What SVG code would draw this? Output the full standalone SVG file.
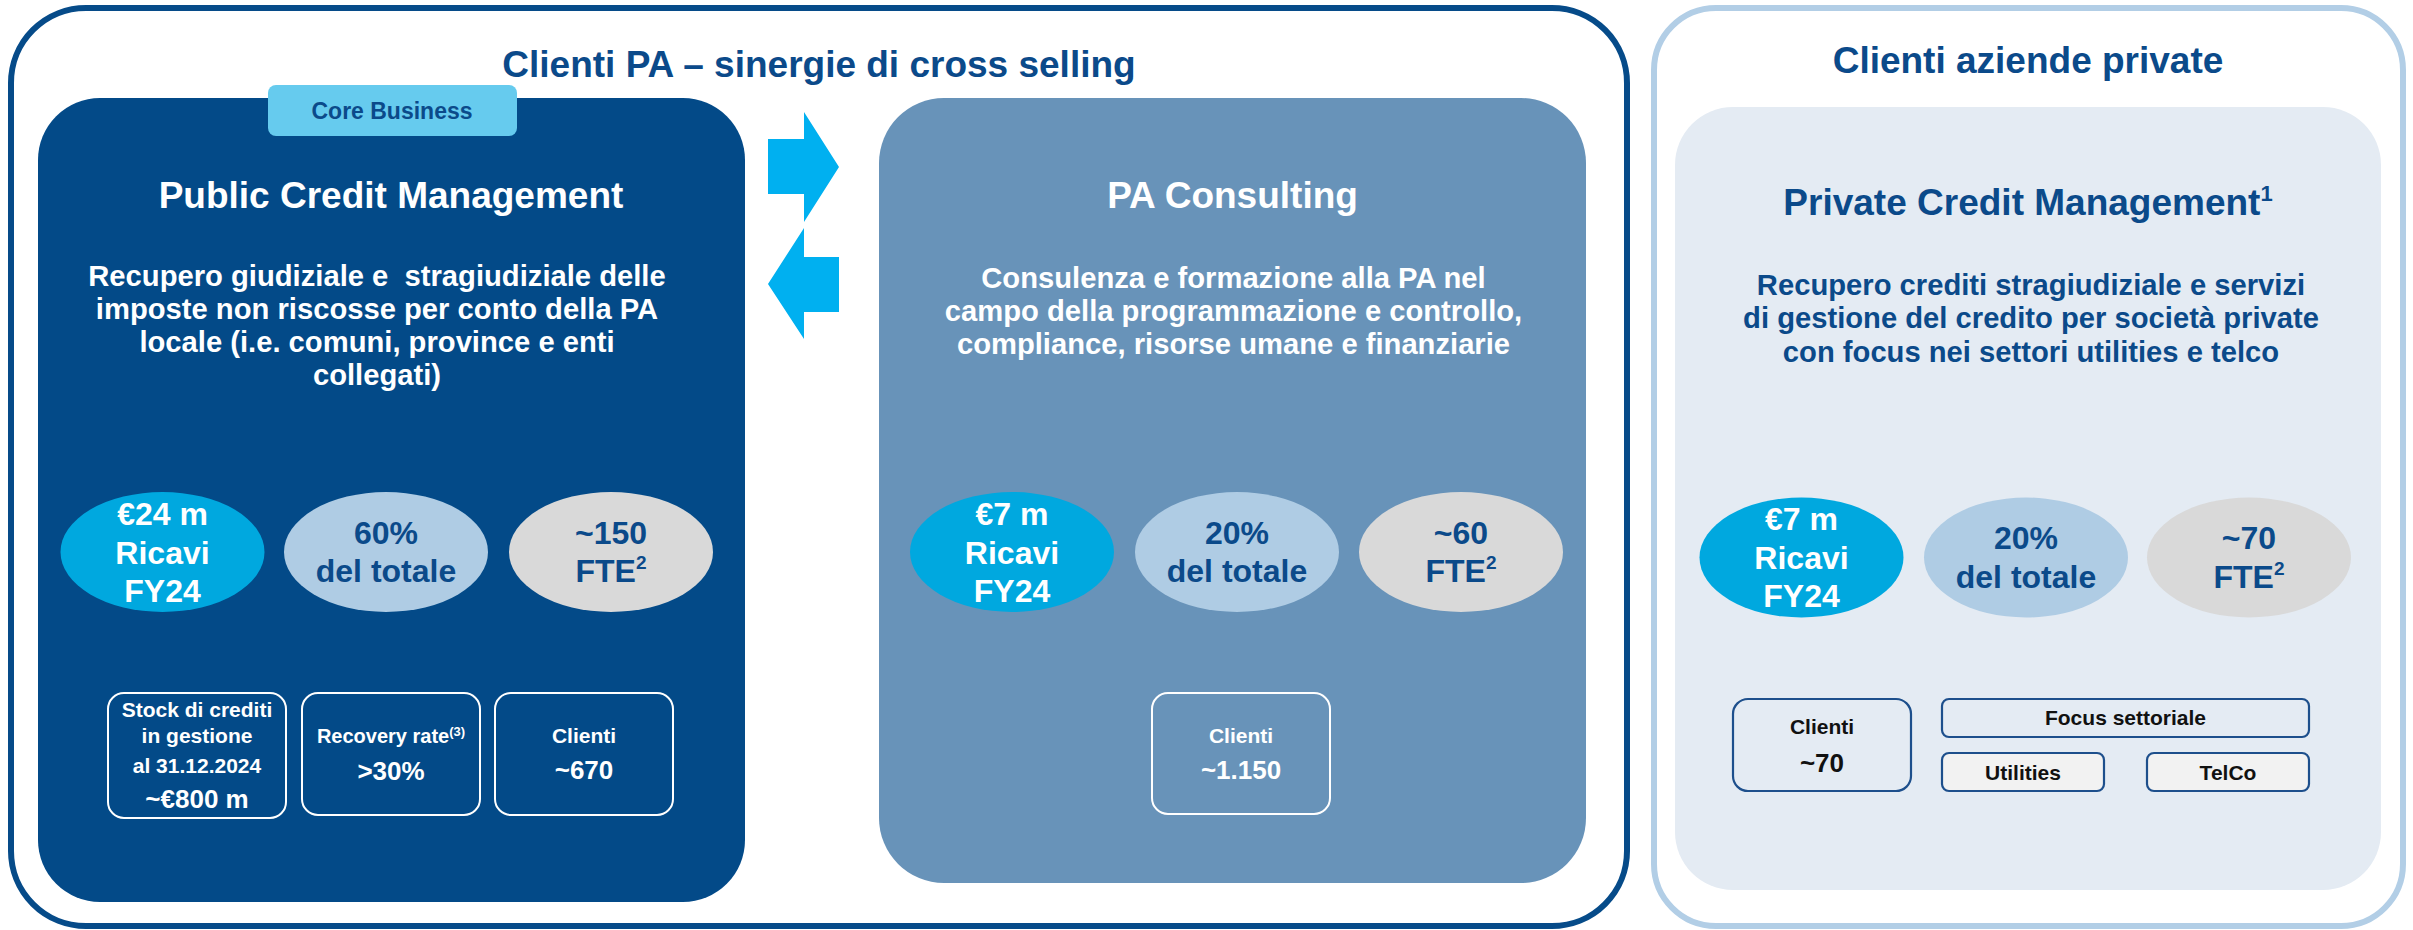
<svg xmlns="http://www.w3.org/2000/svg" width="2413" height="930" viewBox="0 0 2413 930">
<style>
text{font-family:"Liberation Sans",Arial,sans-serif;font-weight:bold;text-anchor:middle}
.title{font-size:37px;fill:#0B4A8A}
.wt{fill:#FFFFFF}
.db{fill:#0B4A8A}
.bk{fill:#111111}
.desc{font-size:29.2px}
.ell{font-size:32px}
.sm{font-size:21px}
.md{font-size:26px}
.wbox{fill:none;stroke:#FFFFFF;stroke-width:2}
.bbox{fill:none;stroke:#1D4F8C;stroke-width:2.2}
.cyan{fill:#00A8DF}
.lblue{fill:#AFCCE4}
.grey{fill:#D9D9D9}
.arrow{fill:#00B0F0}
</style>
<rect width="2413" height="930" fill="#FFFFFF"/>

<g id="pa-panel">
<rect x="11" y="8" width="1616" height="918" rx="75" ry="75" fill="#FFFFFF" stroke="#064B89" stroke-width="6"/>
<text class="title" x="819" y="77">Clienti PA – sinergie di cross selling</text>
</g>

<g id="public-credit-management">
<rect x="38" y="98" width="707" height="804" rx="62" ry="62" fill="#034A88"/>
<rect x="268" y="85" width="249" height="51" rx="8" ry="8" fill="#66CBEE"/>
<text x="392" y="119" style="font-size:23px" class="db">Core Business</text>
<text class="wt" x="391" y="208" style="font-size:37px">Public Credit Management</text>
<text class="wt desc" x="377" y="286" xml:space="preserve">Recupero giudiziale e  stragiudiziale delle</text>
<text class="wt desc" x="377" y="319">imposte non riscosse per conto della PA</text>
<text class="wt desc" x="377" y="352">locale (i.e. comuni, province e enti</text>
<text class="wt desc" x="377" y="385">collegati)</text>
<ellipse class="cyan" cx="162.5" cy="552" rx="102" ry="60"/>
<text class="wt ell" x="162.5" y="525">€24 m</text>
<text class="wt ell" x="162.5" y="564">Ricavi</text>
<text class="wt ell" x="162.5" y="602">FY24</text>
<ellipse class="lblue" cx="386" cy="552" rx="102" ry="60"/>
<text class="db ell" x="386" y="544">60%</text>
<text class="db ell" x="386" y="582">del totale</text>
<ellipse class="grey" cx="611" cy="552" rx="102" ry="60"/>
<text class="db ell" x="611" y="544">~150</text>
<text class="db ell" x="611" y="582">FTE<tspan style="font-size:19px" dy="-13">2</tspan></text>
<rect class="wbox" x="108" y="693" width="178" height="125" rx="16" ry="16"/>
<text class="wt sm" x="197" y="717">Stock di crediti</text>
<text class="wt sm" x="197" y="743">in gestione</text>
<text class="wt sm" x="197" y="773">al 31.12.2024</text>
<text class="wt md" x="197" y="808">~€800 m</text>
<rect class="wbox" x="302" y="693" width="178" height="122" rx="16" ry="16"/>
<text class="wt" x="391" y="743" style="font-size:20px">Recovery rate<tspan style="font-size:13px" dy="-7">(3)</tspan></text>
<text class="wt md" x="391" y="780">&gt;30%</text>
<rect class="wbox" x="495" y="693" width="178" height="122" rx="16" ry="16"/>
<text class="wt sm" x="584" y="743">Clienti</text>
<text class="wt md" x="584" y="779">~670</text>
</g>

<g id="connectors">
<polygon class="arrow" points="768,139 804,139 804,112 839,167 804,222 804,194 768,194"/>
<polygon class="arrow" points="839,257 804,257 804,228 768,284 804,339 804,312 839,312"/>
</g>

<g id="pa-consulting">
<rect x="879" y="98" width="707" height="785" rx="65" ry="65" fill="#6893B9"/>
<text class="wt" x="1232.5" y="208" style="font-size:37px">PA Consulting</text>
<text class="wt desc" x="1233.5" y="288">Consulenza e formazione alla PA nel</text>
<text class="wt desc" x="1233.5" y="321">campo della programmazione e controllo,</text>
<text class="wt desc" x="1233.5" y="354">compliance, risorse umane e finanziarie</text>
<ellipse class="cyan" cx="1012" cy="552" rx="102" ry="60"/>
<text class="wt ell" x="1012" y="525">€7 m</text>
<text class="wt ell" x="1012" y="564">Ricavi</text>
<text class="wt ell" x="1012" y="602">FY24</text>
<ellipse class="lblue" cx="1237" cy="552" rx="102" ry="60"/>
<text class="db ell" x="1237" y="544">20%</text>
<text class="db ell" x="1237" y="582">del totale</text>
<ellipse class="grey" cx="1461" cy="552" rx="102" ry="60"/>
<text class="db ell" x="1461" y="544">~60</text>
<text class="db ell" x="1461" y="582">FTE<tspan style="font-size:19px" dy="-13">2</tspan></text>
<rect class="wbox" x="1152" y="693" width="178" height="121" rx="16" ry="16"/>
<text class="wt sm" x="1241" y="743">Clienti</text>
<text class="wt md" x="1241" y="779">~1.150</text>
</g>

<g id="private-panel">
<rect x="1654" y="8" width="749" height="918" rx="62" ry="62" fill="#FFFFFF" stroke="#B2CEE6" stroke-width="6"/>
<text class="title" x="2028" y="73">Clienti aziende private</text>
</g>

<g id="private-credit-management">
<rect x="1675" y="107" width="706" height="783" rx="58" ry="58" fill="#E4EBF3"/>
<text class="db" x="2028" y="215" style="font-size:37px">Private Credit Management<tspan style="font-size:22px" dy="-14">1</tspan></text>
<text class="db desc" x="2031" y="295">Recupero crediti stragiudiziale e servizi</text>
<text class="db desc" x="2031" y="328">di gestione del credito per società private</text>
<text class="db desc" x="2031" y="362">con focus nei settori utilities e telco</text>
<ellipse class="cyan" cx="1801.5" cy="557.5" rx="102" ry="60"/>
<text class="wt ell" x="1801.5" y="530">€7 m</text>
<text class="wt ell" x="1801.5" y="569">Ricavi</text>
<text class="wt ell" x="1801.5" y="607">FY24</text>
<ellipse class="lblue" cx="2026" cy="557.5" rx="102" ry="60"/>
<text class="db ell" x="2026" y="549">20%</text>
<text class="db ell" x="2026" y="588">del totale</text>
<ellipse class="grey" cx="2249" cy="557.5" rx="102" ry="60"/>
<text class="db ell" x="2249" y="549">~70</text>
<text class="db ell" x="2249" y="588">FTE<tspan style="font-size:19px" dy="-13">2</tspan></text>
<rect class="bbox" x="1733" y="699" width="178" height="92" rx="15" ry="15"/>
<text class="bk sm" x="1822" y="734">Clienti</text>
<text class="bk md" x="1822" y="772">~70</text>
<rect class="bbox" x="1942" y="699" width="367" height="38" rx="7" ry="7"/>
<text class="bk sm" x="2125.5" y="725">Focus settoriale</text>
<rect class="bbox" x="1942" y="753" width="162" height="38" rx="7" ry="7" style="fill:#F2F2F2"/>
<text class="bk sm" x="2023" y="780">Utilities</text>
<rect class="bbox" x="2147" y="753" width="162" height="38" rx="7" ry="7" style="fill:#F2F2F2"/>
<text class="bk sm" x="2228" y="780">TelCo</text>
</g>
</svg>
